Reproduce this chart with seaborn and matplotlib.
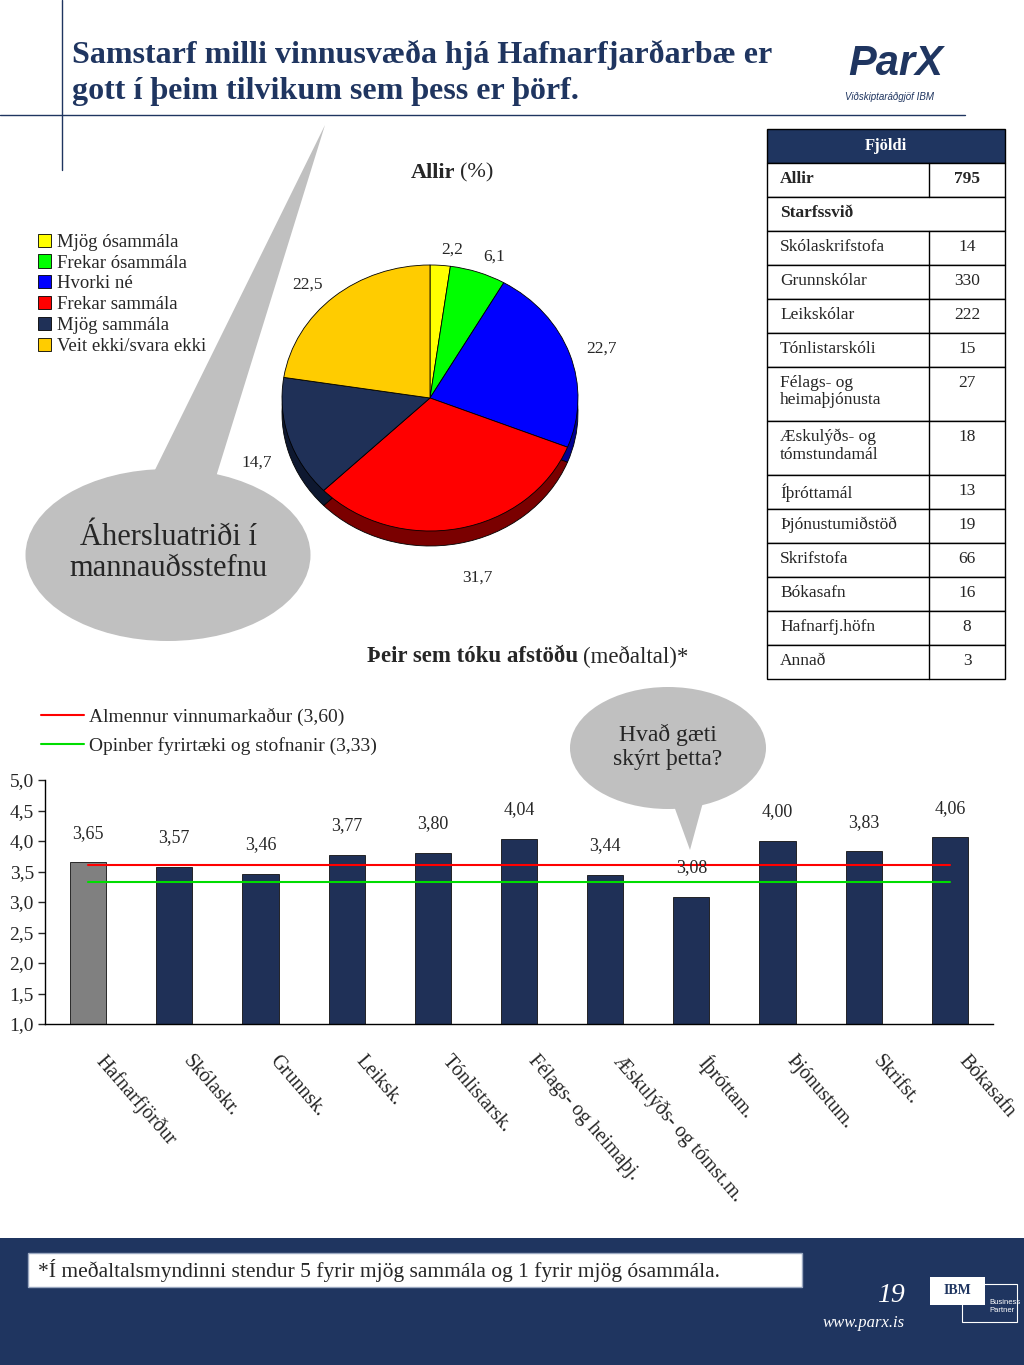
import numpy as np
import matplotlib
matplotlib.use("Agg")
import matplotlib.pyplot as plt
import matplotlib.transforms as mtransforms
import seaborn as sns
from matplotlib.patches import Ellipse, Polygon, Rectangle

sns.set_style("white")
plt.rcParams['font.family'] = ['Liberation Serif', 'DejaVu Serif']

NAVY = '#1F3560'

# --- data ---
pie_labels = ['Mjög ósammála', 'Frekar ósammála', 'Hvorki né', 'Frekar sammála',
              'Mjög sammála', 'Veit ekki/svara ekki']
pie_values = [2.2, 6.1, 22.7, 31.7, 14.7, 22.5]
pie_colors = ['#FFFF00', '#00FF00', '#0000FF', '#FF0000', '#1F3057', '#FFCC00']
pie_side = ['#8C8C00', '#009000', '#000090', '#7A0000', '#0E1830', '#8C7000']

bar_labels = ['Hafnarfjörður', 'Skólaskr.', 'Grunnsk.', 'Leiksk.', 'Tónlistarsk.',
              'Félags- og heimaþj.', 'Æskulýðs- og tómst.m.', 'Íþróttam.',
              'Þjónustum.', 'Skrifst.', 'Bókasafn']
bar_values = [3.65, 3.57, 3.46, 3.77, 3.80, 4.04, 3.44, 3.08, 4.00, 3.83, 4.06]
bar_colors = ['#808080'] + ['#1F3057'] * 10

ref_labels = ['Almennur vinnumarkaður (3,60)', 'Opinber fyrirtæki og stofnanir (3,33)']
ref_values = [3.60, 3.33]
ref_colors = ['#FF0000', '#00DD00']

table_labels = ['Allir', 'Starfssvið', 'Skólaskrifstofa', 'Grunnskólar', 'Leikskólar',
                'Tónlistarskóli', 'Félags- og\nheimaþjónusta', 'Æskulýðs- og\ntómstundamál',
                'Íþróttamál', 'Þjónustumiðstöð', 'Skrifstofa', 'Bókasafn',
                'Hafnarfj.höfn', 'Annað']
table_values = ['795', '', '14', '330', '222', '15', '27', '18', '13', '19', '66',
                '16', '8', '3']

fig = plt.figure(figsize=(10.24, 13.65), dpi=100)

# overlay in pixel coordinates for the slide decorations
ov = fig.add_axes([0, 0, 1, 1], zorder=0)
ov.set_xlim(0, 1024)
ov.set_ylim(1365, 0)
ov.axis('off')

# header lines + title
ov.plot([62, 62], [0, 170], color=NAVY, lw=1)
ov.plot([0, 965], [115, 115], color=NAVY, lw=1)
ov.text(72, 55, 'Samstarf milli vinnusvæða hjá Hafnarfjarðarbæ er', fontsize=23,
        fontweight='bold', color=NAVY, va='center')
ov.text(72, 92, 'gott í þeim tilvikum sem þess er þörf.', fontsize=23,
        fontweight='bold', color=NAVY, va='center')
ov.text(848, 64, 'ParX', fontsize=30, fontstyle='italic', fontweight='bold', color=NAVY,
        va='center', family=['Liberation Sans', 'DejaVu Sans'])
ov.text(845, 97, 'Viðskiptaráðgjöf IBM', fontsize=7, fontstyle='italic', color=NAVY,
        va='center', family=['Liberation Sans', 'DejaVu Sans'])

# table
tx0, txd, tx1 = 767, 929, 1005
y = 129
ov.add_patch(Rectangle((tx0, y), tx1 - tx0, 34, facecolor=NAVY, edgecolor='black', lw=1))
ov.text((tx0 + tx1) / 2, y + 17, 'Fjöldi', color='white', fontweight='bold',
        fontsize=12, ha='center', va='center')
y += 34
for lab, val in zip(table_labels, table_values):
    h = 54 if '\n' in lab else 34
    ov.add_patch(Rectangle((tx0, y), tx1 - tx0, h, facecolor='white', edgecolor='black', lw=1))
    if lab != 'Starfssvið':
        ov.plot([txd, txd], [y, y + h], color='black', lw=1)
    bold = 'bold' if lab in ('Allir', 'Starfssvið') else 'normal'
    ov.text(780, y + 8, lab, fontsize=12.5, fontweight=bold, va='top', linespacing=1.1)
    ov.text((txd + tx1) / 2, y + 8, val, fontsize=12.5, fontweight=bold, ha='center', va='top')
    y += h

# speech bubbles
ov.add_patch(Polygon([(150, 480), (325, 125), (215, 480)], closed=True,
                     facecolor='#C0C0C0', edgecolor='none'))
ov.add_patch(Ellipse((168, 555), 285, 172, facecolor='#C0C0C0', edgecolor='none'))
ov.text(168, 553, 'Áhersluatriði í\nmannauðsstefnu', fontsize=22, ha='center',
        va='center', linespacing=1.1)

ov.add_patch(Polygon([(670, 795), (690, 850), (705, 795)], closed=True,
                     facecolor='#C0C0C0', edgecolor='none'))
ov.add_patch(Ellipse((668, 748), 196, 122, facecolor='#C0C0C0', edgecolor='none'))
ov.text(668, 747, 'Hvað gæti\nskýrt þetta?', fontsize=17, ha='center', va='center',
        linespacing=1.15)

# chart titles
ov.text(455, 173, 'Allir', fontsize=16, fontweight='bold', ha='right', va='center')
ov.text(460, 173, '(%)', fontsize=16, ha='left', va='center')
ov.text(578, 657, 'Þeir sem tóku afstöðu', fontsize=16.5, fontweight='bold', ha='right', va='center')
ov.text(583, 657, '(meðaltal)*', fontsize=16.5, ha='left', va='center')

# footer
ov.add_patch(Rectangle((0, 1238), 1024, 127, facecolor=NAVY, edgecolor='none'))
ov.add_patch(Rectangle((28, 1253), 774, 34, facecolor='white', edgecolor='#9AA8C0', lw=1))
ov.text(38, 1271, '*Í meðaltalsmyndinni stendur 5 fyrir mjög sammála og 1 fyrir mjög ósammála.',
        fontsize=15.5, va='center')
ov.text(905, 1295, '19', fontsize=20, fontstyle='italic', color='white', ha='right', va='center')
ov.text(905, 1323, 'www.parx.is', fontsize=12, fontstyle='italic', color='white',
        ha='right', va='center')
ov.add_patch(Rectangle((962, 1284), 55, 38, facecolor='none', edgecolor='white', lw=0.8))
ov.add_patch(Rectangle((930, 1277), 55, 28, facecolor='white', edgecolor='none'))
ov.text(957, 1291, 'IBM', fontsize=10, fontweight='bold', color=NAVY, ha='center', va='center')
ov.text(989, 1306, 'Business\nPartner', fontsize=5.5, color='white', ha='left', va='center',
        family=['Liberation Sans', 'DejaVu Sans'])

# --- pie (tilted, with a darker side) ---
cx, cy, rx, ry = 430, 398, 148, 133
pl, pr, pt, pb = 250, 610, 230, 590
axp = fig.add_axes([pl / 1024, 1 - pb / 1365, (pr - pl) / 1024, (pb - pt) / 1365], zorder=2)
axp.patch.set_alpha(0)
depth = 15 / ry
axp.pie(pie_values, colors=pie_side, startangle=90, counterclock=False,
        center=(0, -depth), wedgeprops=dict(edgecolor='black', linewidth=0.6))
wedges, texts = axp.pie(pie_values, colors=pie_colors, startangle=90, counterclock=False,
                        labels=[f'{v:.1f}'.replace('.', ',') for v in pie_values],
                        labeldistance=1.12, textprops=dict(fontsize=12.5),
                        wedgeprops=dict(edgecolor='black', linewidth=0.6))
# lower labels sit below the pie side
for k, dy in [(3, 0.25), (4, 0.15)]:
    px_, py_ = texts[k].get_position()
    texts[k].set_position((px_, py_ - dy))
axp.set_aspect('auto')
axp.set_xlim((pl - cx) / rx, (pr - cx) / rx)
axp.set_ylim((cy - pb) / ry, (cy - pt) / ry)
axp.axis('off')
fig.legend(wedges, pie_labels, loc='upper left', bbox_to_anchor=(30 / 1024, 1 - 226 / 1365),
           frameon=False, fontsize=13.5, handlelength=0.7, handleheight=0.7,
           handletextpad=0.35, labelspacing=0.2, borderaxespad=0)

# --- bars ---
bl, br, bt, bb = 45, 993, 780, 1024
axb = fig.add_axes([bl / 1024, 1 - bb / 1365, (br - bl) / 1024, (bb - bt) / 1365], zorder=2)
axb.patch.set_alpha(0)
sns.barplot(x=bar_labels, y=bar_values, hue=bar_labels, palette=bar_colors, legend=False,
            width=0.42, saturation=1, edgecolor='#111111', linewidth=0.6, ax=axb)
for val, lab, col in zip(ref_values, ref_labels, ref_colors):
    axb.plot([0, len(bar_values) - 1], [val, val], color=col, lw=1.5, label=lab)
for i, v in enumerate(bar_values):
    axb.annotate(f'{v:.2f}'.replace('.', ','), (i, v), xytext=(0, 21),
                 textcoords='offset points', ha='center', va='center', fontsize=13)
axb.set_xlim(-0.5, len(bar_values) - 0.5)
axb.set_ylim(1, 5)
yt = np.arange(1, 5.01, 0.5)
axb.set_yticks(yt)
axb.set_yticklabels([f'{t:.1f}'.replace('.', ',') for t in yt], fontsize=14)
axb.tick_params(axis='y', direction='out', length=5, width=1, pad=3, left=True)
axb.tick_params(axis='x', length=0, pad=20)
axb.set_xticks(range(len(bar_labels)))
axb.set_xticklabels(bar_labels, rotation=-49, ha='left', va='top', rotation_mode='anchor',
                    fontsize=14.5)
shift = mtransforms.ScaledTranslation(0.19, 0, fig.dpi_scale_trans)
for t in axb.get_xticklabels():
    t.set_transform(t.get_transform() + shift)
axb.set_xlabel('')
axb.set_ylabel('')
for s in ['top', 'right']:
    axb.spines[s].set_visible(False)
for s in ['left', 'bottom']:
    axb.spines[s].set_color('black')
    axb.spines[s].set_linewidth(1)
axb.legend(loc='upper left', bbox_to_anchor=(33 / 1024, 1 - 700 / 1365),
           bbox_transform=fig.transFigure, frameon=False, fontsize=14,
           handlelength=2.2, handletextpad=0.3, labelspacing=0.55, borderaxespad=0)

fig.savefig('out.png', dpi=100)
